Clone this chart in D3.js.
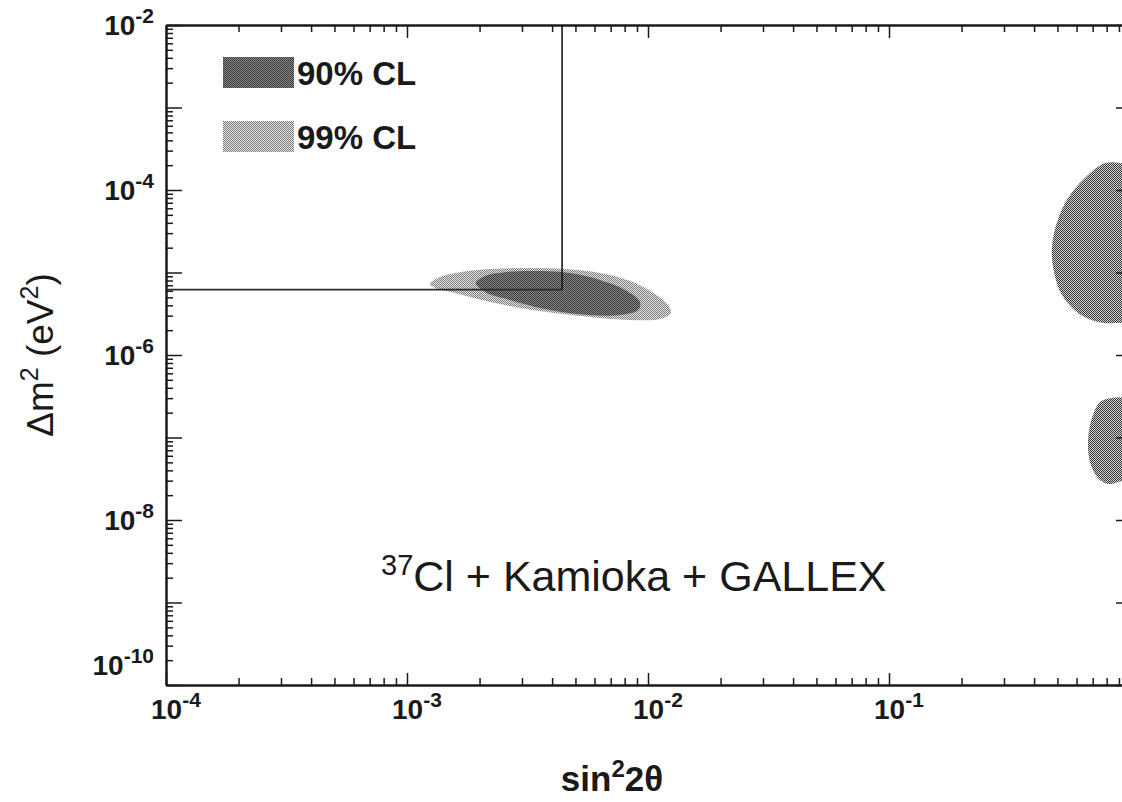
<!DOCTYPE html>
<html><head><meta charset="utf-8">
<script src="https://cdn.jsdelivr.net/npm/d3@7"></script>
<style>
html,body{margin:0;padding:0;background:#fff;}
svg{display:block;}
text{font-family:"Liberation Sans",Arial,Helvetica,sans-serif;fill:#1a1a1a;}
</style></head>
<body>
<svg id="chart" width="1122" height="802"></svg>
<script>
// ---------------- data ----------------
const xTickLabels = [1e-4, 1e-3, 1e-2, 1e-1];
const yTickLabels = [1e-2, 1e-4, 1e-6, 1e-8, 1e-10];
const xDomain = [1e-4, 1];
const yDomain = [1e-10, 1e-2];

// 99% CL contour (sin^2 2theta, dm^2)
const contour99 = [
  [1.245e-3, 7.26e-6], [1.37e-3, 8.82e-6], [1.66e-3, 1.01e-5], [2.21e-3, 1.10e-5],
  [3.24e-3, 1.13e-5], [4.53e-3, 1.10e-5], [6.32e-3, 9.86e-6], [8.41e-3, 7.89e-6],
  [1.07e-2, 5.49e-6], [1.21e-2, 4.04e-6], [1.245e-2, 3.23e-6], [1.12e-2, 2.73e-6],
  [8.41e-3, 2.66e-6], [5.74e-3, 2.89e-6], [3.56e-3, 3.41e-6], [2.21e-3, 4.39e-6],
  [1.58e-3, 5.65e-6], [1.31e-3, 6.49e-6]
];
// 90% CL contour
const contour90 = [
  [1.93e-3, 7.46e-6], [2.11e-3, 9.08e-6], [2.55e-3, 1.01e-5], [3.56e-3, 1.04e-5],
  [4.74e-3, 9.86e-6], [6.32e-3, 8.11e-6], [8.04e-3, 6.14e-6], [9.27e-3, 4.39e-6],
  [9.10e-3, 3.51e-6], [7.66e-3, 3.05e-6], [5.74e-3, 3.05e-6], [3.92e-3, 3.51e-6],
  [2.67e-3, 4.65e-6], [2.11e-3, 5.81e-6]
];
// large-mixing regions
const rightUpper = [
  [0.910, 2.12e-4], [0.787, 2.12e-4], [0.650, 1.40e-4], [0.553, 8.0e-5],
  [0.498, 4.09e-5], [0.474, 1.98e-5], [0.484, 1.01e-5], [0.522, 5.33e-6],
  [0.608, 3.23e-6], [0.736, 2.51e-6], [0.867, 2.44e-6], [0.98, 2.66e-6], [0.98, 2.01e-4]
];
const rightLower = [
  [0.841, 3.01e-7], [0.752, 2.69e-7], [0.695, 1.72e-7], [0.670, 9.33e-8],
  [0.682, 5.05e-8], [0.736, 3.23e-8], [0.811, 2.73e-8], [0.891, 2.89e-8],
  [0.98, 3.23e-8], [0.98, 2.85e-7]
];
// bound lines
const hLine = [[1e-4, 6.2e-6], [4.4e-3, 6.2e-6]];
const vLine = [[4.4e-3, 1e-2], [4.4e-3, 6.2e-6]];
const legendItems = ["90% CL", "99% CL"];

// ---------------- layout ----------------
const svg = d3.select("#chart");
const M = {left: 166, top: 25, right: 1130, bottom: 685};
const x = d3.scaleLog().domain(xDomain).range([M.left, M.right]);
const y = d3.scaleLog().domain(yDomain).range([M.bottom, M.top]);

const defs = svg.append("defs");
function pat(id, base, dot){
  const p = defs.append("pattern").attr("id", id).attr("width", 2).attr("height", 2)
    .attr("patternUnits", "userSpaceOnUse");
  p.append("rect").attr("width", 2).attr("height", 2).attr("fill", base);
  p.append("rect").attr("x", 0).attr("y", 0).attr("width", 1).attr("height", 1).attr("fill", dot);
  p.append("rect").attr("x", 1).attr("y", 1).attr("width", 1).attr("height", 1).attr("fill", dot);
}
pat("p90", "#888888", "#3a3a3a");
pat("p99", "#e6e6e6", "#7a7a7a");
pat("pR", "#d2d2d2", "#383838");
defs.append("clipPath").attr("id", "clip").append("rect")
  .attr("x", M.left).attr("y", M.top).attr("width", M.right - M.left).attr("height", M.bottom - M.top);

const g = svg.append("g").attr("clip-path", "url(#clip)");
const area = d3.line().x(d => x(d[0])).y(d => y(d[1])).curve(d3.curveCatmullRomClosed.alpha(0.5));
const line = d3.line().x(d => x(d[0])).y(d => y(d[1]));

g.append("path").attr("d", area(contour99)).attr("fill", "url(#p99)");
g.append("path").attr("d", area(contour90)).attr("fill", "url(#p90)");
g.append("path").attr("d", area(rightUpper)).attr("fill", "url(#pR)");
g.append("path").attr("d", area(rightLower)).attr("fill", "url(#pR)");
g.append("path").attr("d", line(hLine)).attr("stroke", "#2a2a2a").attr("stroke-width", 1.6).attr("fill", "none");
g.append("path").attr("d", line(vLine)).attr("stroke", "#1a1a1a").attr("stroke-width", 1.6).attr("fill", "none");

// ---------------- axes ----------------
function minors(lo, hi){
  const out = [];
  for (let e = lo; e < hi; e++) for (let m = 2; m <= 9; m++) out.push(m * Math.pow(10, e));
  return out;
}
function majors(lo, hi){ const out=[]; for (let e = lo; e <= hi; e++) out.push(Math.pow(10, e)); return out; }
const xMin = minors(-4, 0), xMaj = majors(-4, 0);
const yMin = minors(-10, -2), yMaj = majors(-10, -2);

function styleAxis(sel){
  sel.selectAll("path.domain").attr("stroke", "#1a1a1a").attr("stroke-width", 2);
  sel.selectAll(".tick line").attr("stroke", "#1a1a1a").attr("stroke-width", 1.5);
}
const axes = [
  [d3.axisBottom(x).tickValues(xMin).tickSize(-7), `translate(0,${M.bottom})`],
  [d3.axisBottom(x).tickValues(xMaj).tickSize(-12), `translate(0,${M.bottom})`],
  [d3.axisTop(x).tickValues(xMin).tickSize(-7), `translate(0,${M.top})`],
  [d3.axisTop(x).tickValues(xMaj).tickSize(-13), `translate(0,${M.top})`],
  [d3.axisLeft(y).tickValues(yMin).tickSize(-7), `translate(${M.left},0)`],
  [d3.axisLeft(y).tickValues(yMaj).tickSize(-16), `translate(${M.left},0)`],
  [d3.axisRight(y).tickValues(yMin).tickSize(-7), `translate(${M.right},0)`],
  [d3.axisRight(y).tickValues(yMaj).tickSize(-14), `translate(${M.right},0)`]
];
axes.forEach(([ax, tr]) => {
  const a = svg.append("g").attr("transform", tr).call(ax.tickFormat("").tickSizeOuter(0));
  styleAxis(a);
});

// tick labels
const xl = svg.append("g");
xTickLabels.forEach(v => {
  const e = Math.round(Math.log10(v));
  const t = xl.append("text").attr("x", x(v) - 15).attr("y", 719)
    .attr("font-size", 28).attr("font-weight", "bold");
  t.append("tspan").text("10");
  t.append("tspan").attr("dy", -12).attr("font-size", 21).text(String(e));
});
const yl = svg.append("g");
yTickLabels.forEach(v => {
  const e = Math.round(Math.log10(v));
  const yy = Math.min(y(v) + 10, M.bottom - 10);
  const t = yl.append("text").attr("x", 154).attr("y", yy).attr("text-anchor", "end")
    .attr("font-size", 28).attr("font-weight", "bold");
  t.append("tspan").text("10");
  t.append("tspan").attr("dy", -12).attr("font-size", 21).text(String(e));
});

// axis titles
const xt = svg.append("text").attr("x", 612).attr("y", 791).attr("text-anchor", "middle")
  .attr("font-size", 35).attr("font-weight", "bold");
xt.append("tspan").text("sin");
xt.append("tspan").attr("dy", -14).attr("font-size", 24).text("2");
xt.append("tspan").attr("dy", 14).text("2θ");

const yt = svg.append("text").attr("transform", "translate(53,355) rotate(-90)")
  .attr("text-anchor", "middle").attr("font-size", 37);
yt.append("tspan").text("Δm");
yt.append("tspan").attr("dy", -15).attr("font-size", 25).text("2");
yt.append("tspan").attr("dy", 15).text(" (eV");
yt.append("tspan").attr("dy", -15).attr("font-size", 25).text("2");
yt.append("tspan").attr("dy", 15).text(")");

// legend
const lg = svg.append("g");
const legFills = ["url(#p90)", "url(#p99)"];
legendItems.forEach((name, i) => {
  lg.append("rect").attr("x", 223).attr("y", 57 + i * 64).attr("width", 71).attr("height", 31)
    .attr("fill", legFills[i]);
  lg.append("text").attr("x", 297).attr("y", 85 + i * 64).attr("font-size", 33)
    .attr("font-weight", "bold").text(name);
});

// annotation
const an = svg.append("text").attr("x", 381).attr("y", 591).attr("font-size", 43);
an.append("tspan").attr("dy", -16).attr("font-size", 29).text("37");
an.append("tspan").attr("dy", 16).text("Cl + Kamioka + GALLEX");
</script>
</body></html>
